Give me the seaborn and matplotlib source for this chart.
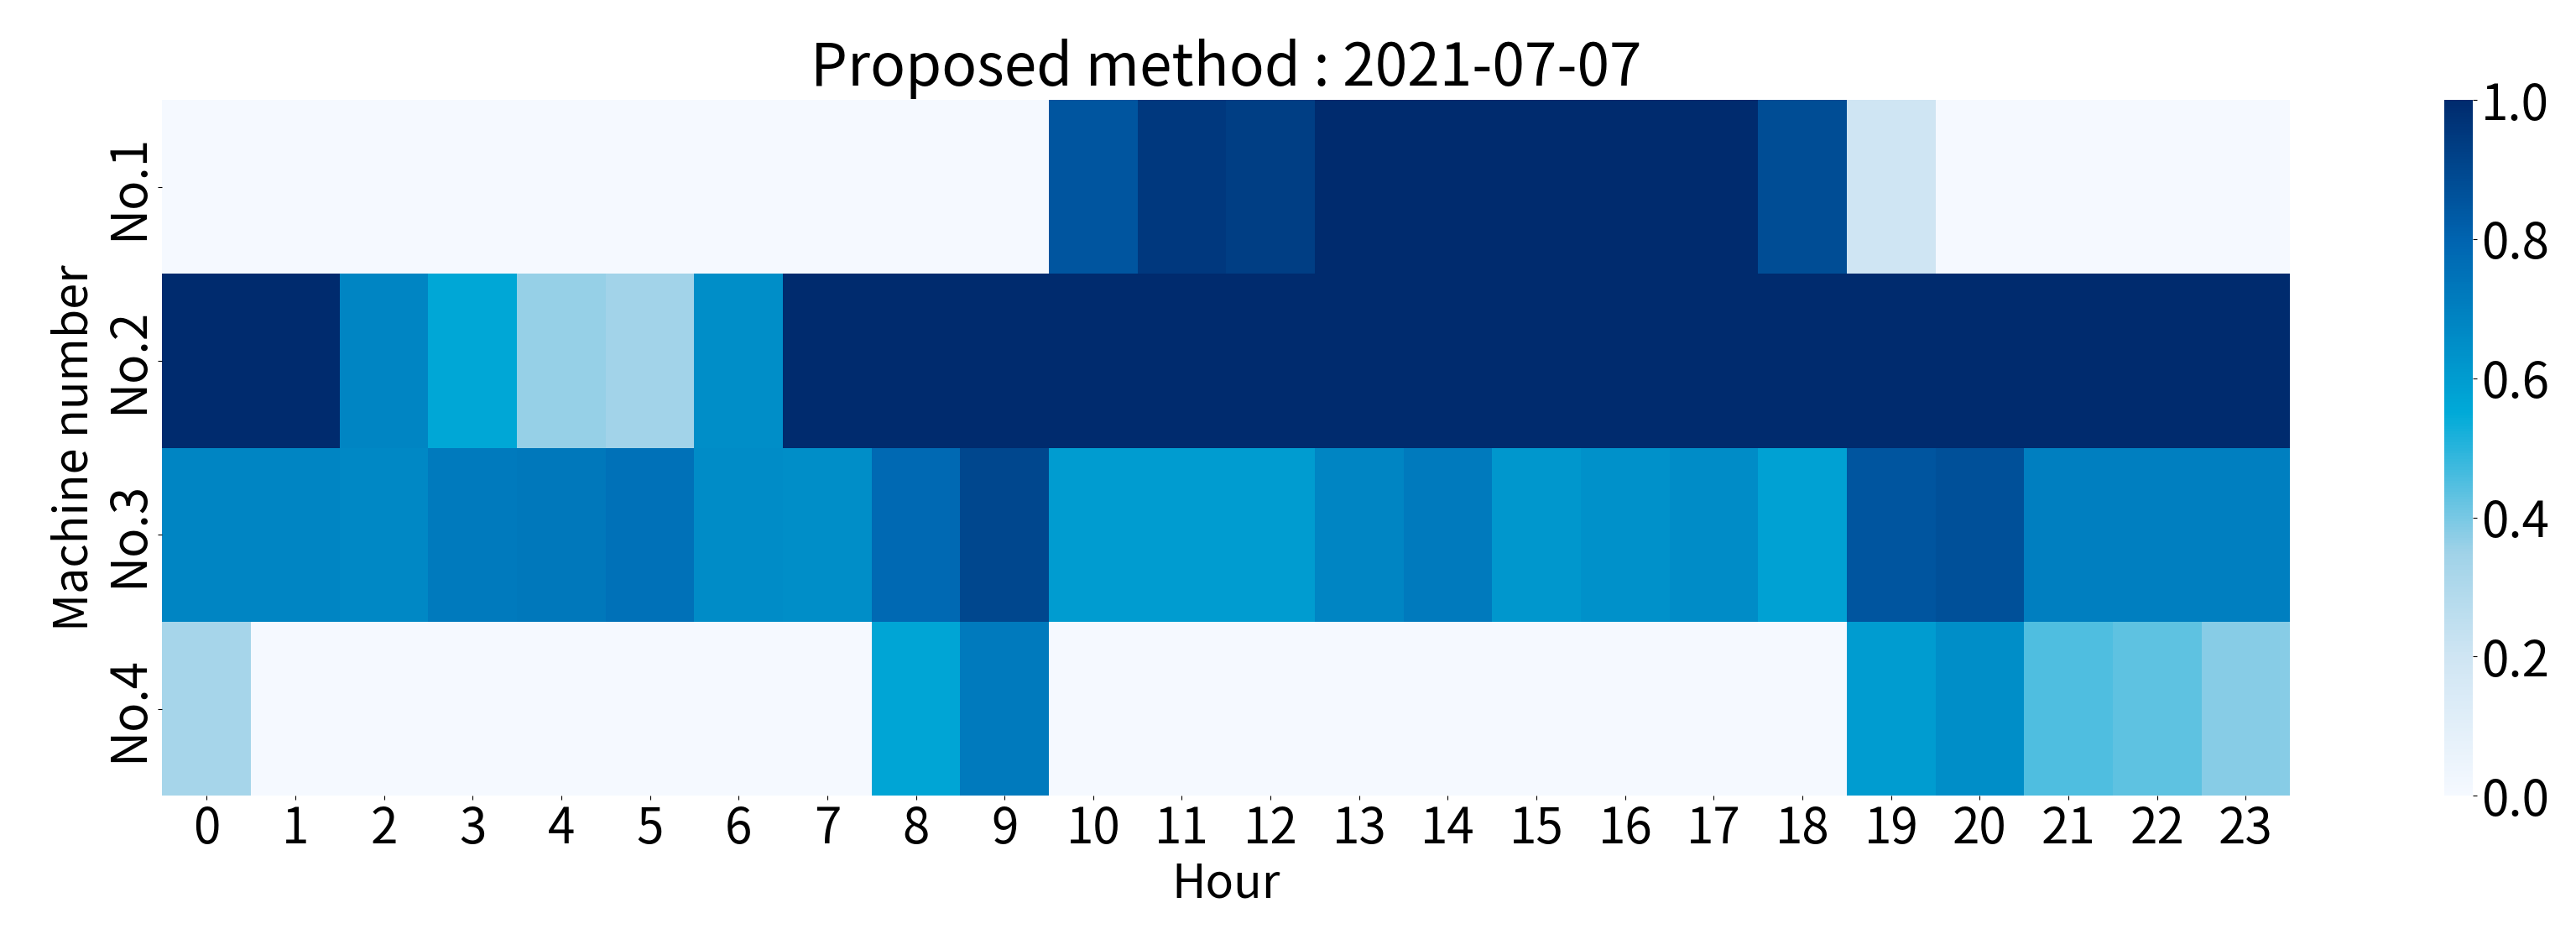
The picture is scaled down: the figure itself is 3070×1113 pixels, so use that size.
import numpy as np
import pandas as pd
import matplotlib
matplotlib.use("Agg")
import matplotlib.pyplot as plt
import seaborn as sns
from matplotlib.colors import LinearSegmentedColormap

hours = list(range(24))
machines = ["No.1", "No.2", "No.3", "No.4"]
no1 = [0, 0, 0, 0, 0, 0, 0, 0, 0, 0, 0.85, 0.95, 0.93, 1, 1, 1, 1, 1, 0.88, 0.2, 0, 0, 0, 0]
no2 = [1, 1, 0.68, 0.56, 0.36, 0.34, 0.65, 1, 1, 1, 1, 1, 1, 1, 1, 1, 1, 1, 1, 1, 1, 1, 1, 1]
no3 = [0.68, 0.68, 0.67, 0.72, 0.73, 0.75, 0.66, 0.65, 0.78, 0.9, 0.6, 0.6, 0.6, 0.68, 0.72,
       0.62, 0.64, 0.66, 0.58, 0.85, 0.87, 0.7, 0.7, 0.7]
no4 = [0.33, 0, 0, 0, 0, 0, 0, 0, 0.57, 0.72, 0, 0, 0, 0, 0, 0, 0, 0, 0, 0.6, 0.65, 0.45, 0.43, 0.38]

df = pd.DataFrame([no1, no2, no3, no4], index=machines, columns=hours)

cmap = LinearSegmentedColormap.from_list(
    "util", [(0, "#f5f9ff"), (0.2, "#cfe5f3"), (0.35, "#9fd2e8"),
             (0.55, "#00aad8"), (0.8, "#0064b0"), (1.0, "#002b6e")])

plt.rcParams['font.family'] = ['Noto Sans CJK JP', 'DejaVu Sans']

fig = plt.figure(figsize=(30.7, 11.13), dpi=100)
ax = fig.add_axes([0.063, 0.148, 0.826, 0.745])
cax = fig.add_axes([0.949, 0.148, 0.011, 0.745])
sns.heatmap(df, cmap=cmap, vmin=0, vmax=1, ax=ax, cbar_ax=cax,
            cbar_kws={"ticks": [0, 0.2, 0.4, 0.6, 0.8, 1.0]})
ax.set_title("Proposed method : 2021-07-07", fontsize=50, pad=12)
ax.set_xlabel("Hour", fontsize=40, labelpad=4)
ax.set_ylabel("Machine number", fontsize=40)
ax.tick_params(axis='both', labelsize=42)
ax.set_yticklabels(machines, rotation=90, va='center')
cax.tick_params(labelsize=42)
cax.set_yticklabels(["0.0", "0.2", "0.4", "0.6", "0.8", "1.0"])
plt.savefig("out.png", dpi=100)
